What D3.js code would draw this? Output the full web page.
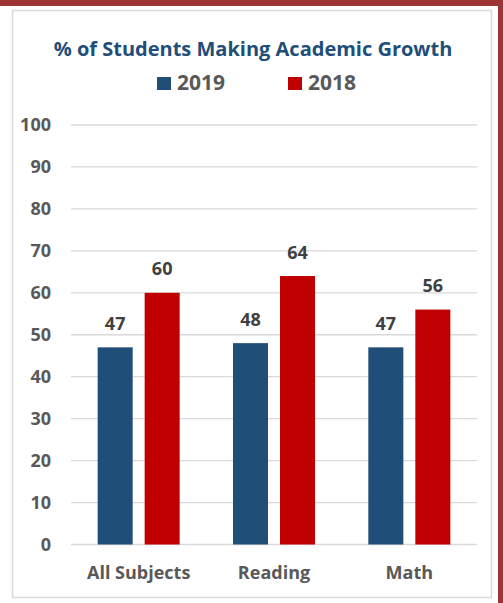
<!DOCTYPE html>
<html>
<head>
<meta charset="utf-8">
<script src="https://cdn.jsdelivr.net/npm/d3@7"></script>
<style>
  body { margin: 0; background: #fff; }
  text { font-family: "Open Sans", sans-serif; font-weight: bold; }
</style>
</head>
<body>
<script>
// chart data
var categories = ['All Subjects', 'Reading', 'Math'];
var seriesNames = ['2019', '2018'];
var values2019 = [47, 48, 47];
var values2018 = [60, 64, 56];
var yTicks = [0, 10, 20, 30, 40, 50, 60, 70, 80, 90, 100];

var colors = { '2019': '#1f4e79', '2018': '#c00000' };

var width = 503;
var height = 603;

var svg = d3.select('body')
  .append('svg')
    .attr('width', width)
    .attr('height', height);

// outer dark red border (top and right) and light inner frame
svg.append('rect')
  .attr('x', 0).attr('y', 0)
  .attr('width', width).attr('height', 6)
  .attr('fill', '#9e3434');
svg.append('rect')
  .attr('x', 498).attr('y', 0)
  .attr('width', 5).attr('height', height)
  .attr('fill', '#9e3434');
svg.append('rect')
  .attr('x', 12.5).attr('y', 10.5)
  .attr('width', 479).attr('height', 587)
  .attr('fill', 'none')
  .attr('stroke', '#d9d9d9')
  .attr('stroke-width', 1.5);

var plot = { left: 71, right: 477, top: 125, bottom: 544.5 };

var y = d3.scaleLinear()
  .domain([0, 100])
  .range([plot.bottom, plot.top]);

var x0 = d3.scaleBand()
  .domain(categories)
  .range([plot.left, plot.right]);

var x1 = d3.scaleBand()
  .domain(seriesNames)
  .range([0, x0.bandwidth()])
  .paddingInner(0.255)
  .paddingOuter(0.567);

// gridlines
svg.append('g')
  .selectAll('line')
  .data(yTicks)
  .join('line')
    .attr('x1', plot.left)
    .attr('x2', plot.right)
    .attr('y1', function(d) { return y(d); })
    .attr('y2', function(d) { return y(d); })
    .attr('stroke', '#d9d9d9')
    .attr('stroke-width', 1.3);

// y axis labels (axis line hidden)
var yAxis = d3.axisLeft(y)
  .tickValues(yTicks)
  .tickSize(0)
  .tickPadding(0);

var yg = svg.append('g')
  .attr('transform', 'translate(51,0)')
  .call(yAxis);
yg.select('.domain').remove();
yg.selectAll('text')
  .attr('font-family', '"Open Sans", sans-serif')
  .attr('font-weight', 'bold')
  .attr('font-size', 18)
  .attr('fill', '#595959');

// x axis labels
var xAxis = d3.axisBottom(x0).tickSize(0).tickPadding(0);
var xg = svg.append('g')
  .attr('transform', 'translate(0,' + plot.bottom + ')')
  .call(xAxis);
xg.select('.domain').remove();
xg.selectAll('text')
  .attr('dy', null)
  .attr('y', 34.5)
  .attr('font-family', '"Open Sans", sans-serif')
  .attr('font-weight', 'bold')
  .attr('font-size', 18)
  .attr('fill', '#595959');

var rows = categories.map(function(c, i) {
  return [
    { cat: c, series: '2019', value: values2019[i] },
    { cat: c, series: '2018', value: values2018[i] }
  ];
});

var groups = svg.append('g')
  .selectAll('g')
  .data(rows)
  .join('g')
    .attr('transform', function(d) { return 'translate(' + x0(d[0].cat) + ',0)'; });

groups.selectAll('rect')
  .data(function(d) { return d; })
  .join('rect')
    .attr('x', function(d) { return x1(d.series); })
    .attr('y', function(d) { return y(d.value); })
    .attr('width', x1.bandwidth())
    .attr('height', function(d) { return y(0) - y(d.value); })
    .attr('fill', function(d) { return colors[d.series]; });

groups.selectAll('text')
  .data(function(d) { return d; })
  .join('text')
    .attr('x', function(d) { return x1(d.series) + x1.bandwidth() / 2; })
    .attr('y', function(d) { return y(d.value) - 17.5; })
    .attr('text-anchor', 'middle')
    .attr('font-size', 18)
    .attr('fill', '#404040')
    .text(function(d) { return d.value; });

// title
svg.append('text')
  .attr('x', 253)
  .attr('y', 56)
  .attr('text-anchor', 'middle')
  .attr('font-size', 20)
  .attr('fill', '#1f4e79')
  .text('% of Students Making Academic Growth');

// legend
var legendX = [157, 288];
var legend = svg.append('g')
  .selectAll('g')
  .data(seriesNames)
  .join('g')
    .attr('transform', function(d, i) { return 'translate(' + legendX[i] + ',0)'; });

legend.append('rect')
  .attr('x', 0).attr('y', 77)
  .attr('width', 14).attr('height', 13)
  .attr('fill', function(d) { return colors[d]; });

legend.append('text')
  .attr('x', 20)
  .attr('y', 89.5)
  .attr('font-size', 21)
  .attr('fill', '#595959')
  .text(function(d) { return d; });
</script>
</body>
</html>
